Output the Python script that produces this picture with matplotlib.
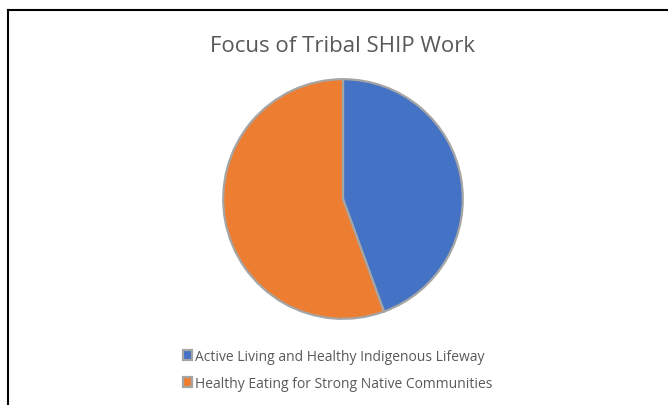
import matplotlib
matplotlib.use("Agg")
import matplotlib.pyplot as plt
from matplotlib.lines import Line2D

categories = ["Active Living and Healthy Indigenous Lifeway",
              "Healthy Eating for Strong Native Communities"]
values = [4, 5]
colors = ["#4472C4", "#ED7D31"]
title = "Focus of Tribal SHIP Work"

plt.rcParams['font.family'] = ['Open Sans', 'DejaVu Sans']

W, H = 668, 406
fig = plt.figure(figsize=(W / 100, H / 100), dpi=100)
fig.patch.set_facecolor("white")

# frame lines (left and top border)
fig.add_artist(Line2D([8 / W, 8 / W], [0, 1 - 11 / H], transform=fig.transFigure,
                      color="black", lw=1.5))
fig.add_artist(Line2D([8 / W, 1], [1 - 11 / H, 1 - 11 / H], transform=fig.transFigure,
                      color="black", lw=1.5))

cx, cy, r = 343, 200, 121
ax = fig.add_axes([(cx - r) / W, 1 - (cy + r) / H, 2 * r / W, 2 * r / H])
wedges, _ = ax.pie(values, colors=colors, startangle=90, counterclock=False,
                   wedgeprops=dict(edgecolor="#A5A5A5", linewidth=1.6))
ax.set_aspect("equal")
ax.set_xlim(-1.01, 1.01)
ax.set_ylim(-1.01, 1.01)
ax.axis("off")

fig.text(cx / W, 1 - 46 / H, title, ha="center", va="center",
         fontsize=16, color="#595959")

leg = fig.legend(wedges, categories, loc="upper left",
                 bbox_to_anchor=(177 / W, 1 - 344 / H), frameon=False,
                 fontsize=10, handlelength=0.7, handleheight=0.7,
                 handletextpad=0.2, labelspacing=0.9, borderaxespad=0)
for t in leg.get_texts():
    t.set_color("#595959")

fig.savefig("out.png", dpi=100)
